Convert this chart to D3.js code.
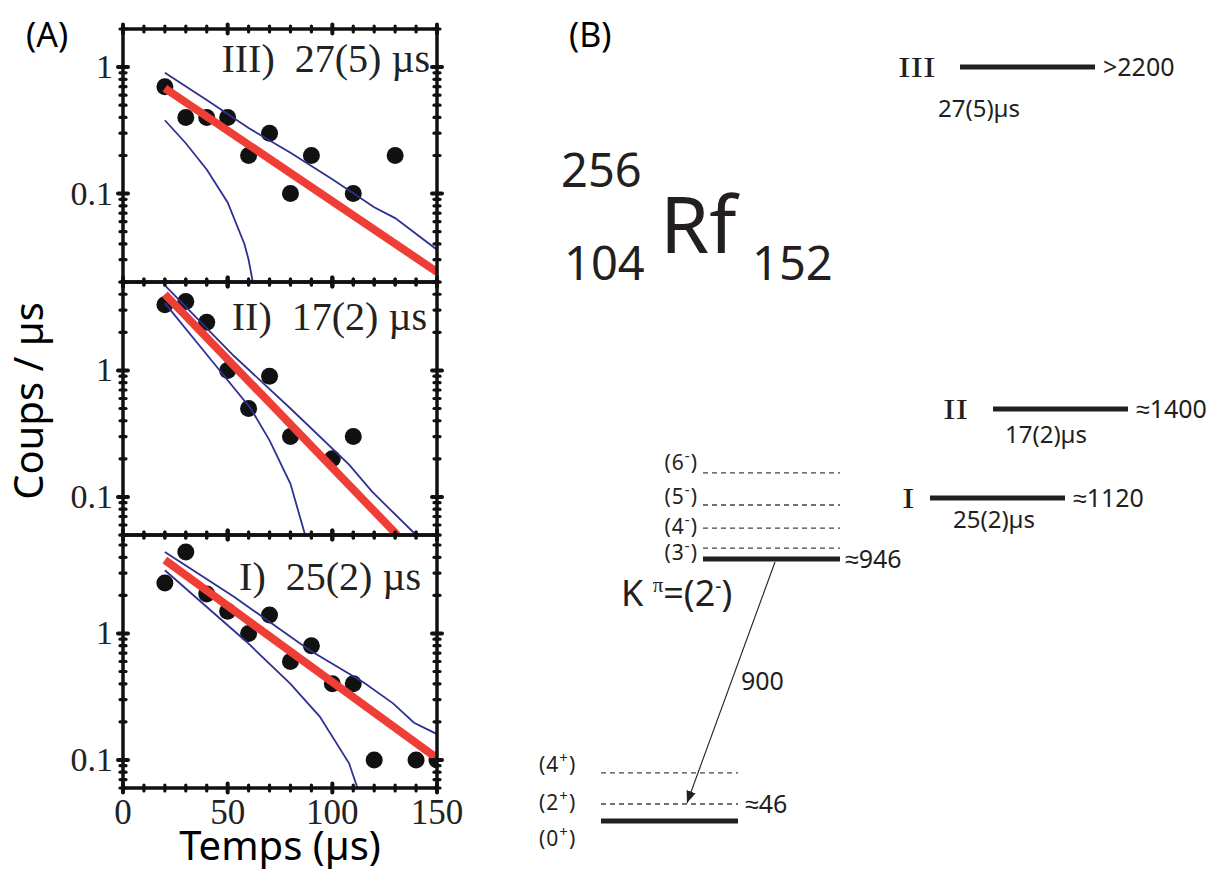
<!DOCTYPE html>
<html><head><meta charset="utf-8">
<script src="https://cdn.jsdelivr.net/npm/d3@7"></script>
<style>body{margin:0;background:#fff}svg{display:block}</style>
</head><body>
<svg id="c" width="1216" height="869"></svg>
<script>
// ---------------- DATA ----------------
// Panel A: decay curves (time in µs, counts / µs)
const timesIII  = [20,30,40,50,60,70,80,90,110,130];
const countsIII = [0.7,0.4,0.4,0.4,0.2,0.3,0.1,0.2,0.1,0.2];
const fitIII    = [[20,0.68],[150,0.024]];
const upperIII  = [[20,0.9],[40,0.55],[60,0.33],[80,0.21],[100,0.13],[120,0.078],[130,0.064],[150,0.036]];
const lowerIII  = [[20,0.38],[30,0.25],[40,0.155],[50,0.085],[58,0.04],[60,0.03],[62,0.02]];

const timesII   = [20,30,40,50,60,70,80,100,110];
const countsII  = [3.3,3.5,2.4,1.0,0.5,0.9,0.3,0.2,0.3];
const fitII     = [[20,4.0],[131,0.05]];
const upperII   = [[20,4.7],[53,1.3],[80,0.5],[108,0.18],[119,0.11],[140,0.05]];
const lowerII   = [[20,3.4],[43,1.16],[61,0.5],[70,0.28],[80,0.127],[87,0.05]];

const timesI    = [20,30,40,50,60,70,80,90,100,110,120,140,150];
const countsI   = [2.5,4.4,2.05,1.5,1.0,1.4,0.6,0.8,0.4,0.4,0.1,0.1,0.1];
const fitI      = [[20,3.8],[150,0.103]];
const upperI    = [[20,4.4],[53,1.95],[89,0.74],[115,0.41],[129,0.28],[139,0.197],[150,0.16]];
const lowerI    = [[20,3.16],[59,0.86],[80,0.4],[94,0.22],[108,0.094],[112,0.06]];

const yDomainIII = [0.02, 2];
const yDomainII  = [0.05, 5];
const yDomainI   = [0.06, 6];
const xDomain    = [0, 150];
const xTickLabels = [0, 50, 100, 150];
const yTickLabels = [1, 0.1];
const panelTitles = ["III)  27(5) µs", "II)  17(2) µs", "I)  25(2) µs"];

// Panel B: level scheme (energies in keV)
const groundLabels   = ["(0+)", "(2+)", "(4+)"];
const groundEnergies = [0, 46, 160];
const bandLabels     = ["(3-)", "(4-)", "(5-)", "(6-)"];
const bandEnergies   = [977, 1034, 1100, 1199];
const bandHead       = 946;
const isomerNames    = ["I", "II", "III"];
const isomerEnergies = [1120, 1400, 2200];
const isomerELabels  = ["≈1120", "≈1400", ">2200"];
const isomerHalfLives= ["25(2)µs", "17(2)µs", "27(5)µs"];
const transitionLabel= "900";

// ---------------- DRAW ----------------
const svg = d3.select("#c");
const SANS = "'Noto Sans', sans-serif";
const SERIF = "'Liberation Serif', 'Times New Roman', serif";
const RED = "#ee3e36", BLUE = "#2e3192", INK = "#231f20";

const x = d3.scaleLinear().domain(xDomain).range([123, 437]);

const panels = [
  {times: timesIII, counts: countsIII, fit: fitIII, up: upperIII, lo: lowerIII, dom: yDomainIII, top: 29,  bot: 282, title: panelTitles[0], tx: 430, ty: 72},
  {times: timesII,  counts: countsII,  fit: fitII,  up: upperII,  lo: lowerII,  dom: yDomainII,  top: 282, bot: 535, title: panelTitles[1], tx: 427, ty: 330},
  {times: timesI,   counts: countsI,   fit: fitI,   up: upperI,   lo: lowerI,   dom: yDomainI,   top: 535, bot: 788, title: panelTitles[2], tx: 421, ty: 590}
];

const defs = svg.append("defs");

panels.forEach((p, i) => {
  const y = d3.scaleLog().domain(p.dom).range([p.bot, p.top]);
  const g = svg.append("g");
  const cid = "clip" + i;
  defs.append("clipPath").attr("id", cid).append("rect")
    .attr("x", x.range()[0]).attr("y", p.top).attr("width", x.range()[1] - x.range()[0]).attr("height", p.bot - p.top);
  const inner = g.append("g").attr("clip-path", `url(#${cid})`);

  inner.selectAll("circle").data(p.times.map((t, k) => [t, p.counts[k]])).join("circle")
    .attr("cx", d => x(d[0])).attr("cy", d => y(d[1])).attr("r", 8.5).attr("fill", "#111");

  const line = d3.line().x(d => x(d[0])).y(d => y(d[1]));
  [p.up, p.lo].forEach(arr => {
    inner.append("path").attr("d", line(arr)).attr("fill", "none").attr("stroke", BLUE).attr("stroke-width", 1.8);
  });
  inner.append("path").attr("d", line(p.fit)).attr("fill", "none").attr("stroke", RED).attr("stroke-width", 8);

  g.append("rect").attr("x", x.range()[0]).attr("y", p.top)
    .attr("width", x.range()[1] - x.range()[0]).attr("height", p.bot - p.top)
    .attr("fill", "none").attr("stroke", "#111").attr("stroke-width", 3.5);

  const xt = d3.range(xDomain[0], xDomain[1] + 1, 10);
  [p.top, p.bot].forEach(yy => {
    g.selectAll(null).data(xt).join("line")
      .attr("x1", d => x(d)).attr("x2", d => x(d))
      .attr("y1", d => yy - (d % 50 === 0 ? 4.5 : 3)).attr("y2", d => yy + (d % 50 === 0 ? 4.5 : 3))
      .attr("stroke", "#111").attr("stroke-width", d => d % 50 === 0 ? 4 : 3.2).attr("stroke-linecap", "round");
  });
  const yt = [];
  const e0 = Math.floor(Math.log10(p.dom[0])), e1 = Math.ceil(Math.log10(p.dom[1]));
  for (let e = e0; e <= e1; e++) for (let k = 1; k <= 9; k++) {
    const v = +(k * Math.pow(10, e)).toPrecision(6);
    if (v >= p.dom[0] * 0.999 && v <= p.dom[1] * 1.001) yt.push(v);
  }
  const isMajor = v => Math.abs(Math.log10(v) - Math.round(Math.log10(v))) < 1e-6;
  x.range().forEach(xx => {
    g.selectAll(null).data(yt).join("line")
      .attr("y1", d => y(d)).attr("y2", d => y(d))
      .attr("x1", d => xx - (isMajor(d) ? 5 : 3)).attr("x2", d => xx + (isMajor(d) ? 5 : 3))
      .attr("stroke", "#111").attr("stroke-width", d => isMajor(d) ? 4 : 3.2).attr("stroke-linecap", "round");
  });
  g.selectAll(null).data(yTickLabels.filter(v => v >= p.dom[0] && v <= p.dom[1])).join("text")
    .attr("x", 113).attr("y", d => y(d) + 11).attr("text-anchor", "end")
    .attr("font-family", SERIF).attr("font-size", 34).attr("fill", "#222").text(d => d);
  g.append("text").attr("x", p.tx).attr("y", p.ty).attr("text-anchor", "end")
    .attr("font-family", SERIF).attr("font-size", 40).attr("fill", "#222").attr("xml:space", "preserve")
    .text(p.title);
});

svg.selectAll(null).data(xTickLabels).join("text")
  .attr("x", d => x(d)).attr("y", 824).attr("text-anchor", "middle")
  .attr("font-family", SERIF).attr("font-size", 35).attr("fill", "#222").text(d => d);

svg.append("text").attr("x", 280).attr("y", 860).attr("text-anchor", "middle")
  .attr("font-family", SANS).attr("font-size", 40).attr("fill", "#000").text("Temps (µs)");
svg.append("text").attr("transform", "translate(43,401) rotate(-90)").attr("text-anchor", "middle")
  .attr("font-family", SANS).attr("font-size", 40).attr("fill", "#000").text("Coups / µs");

svg.append("text").attr("x", 26).attr("y", 47).attr("font-family", SANS).attr("font-size", 34).attr("fill", "#000").text("(A)");
svg.append("text").attr("x", 569).attr("y", 47).attr("font-family", SANS).attr("font-size", 34).attr("fill", "#000").text("(B)");

// ---------------- Panel B ----------------
const E = d3.scaleLinear().domain([0, 46, 946, 1120, 1400, 2200]).range([821, 804, 559, 498, 409, 67]);
const B = svg.append("g").attr("font-family", SANS).attr("fill", INK);

function spinLabel(sel, lab) {
  const core = lab.slice(0, lab.length - 2), sign = lab[lab.length - 2];
  sel.append("tspan").text(core);
  sel.append("tspan").attr("dy", -9).attr("font-size", 15).text(sign === "-" ? "-" : "+");
  sel.append("tspan").attr("dy", 9).text(")");
}

B.append("text").attr("x", 561).attr("y", 187).attr("font-size", 47).text("256");
B.append("text").attr("x", 564).attr("y", 280).attr("font-size", 47).text("104");
B.append("text").attr("x", 660).attr("y", 253).attr("font-size", 79).text("Rf");
B.append("text").attr("x", 752).attr("y", 280).attr("font-size", 47).text("152");

const gx0 = 601, gx1 = 738;
const gOffsets = [17, -2, -9];
groundLabels.forEach((lab, i) => {
  const yy = E(groundEnergies[i]);
  if (i === 0) {
    B.append("line").attr("x1", gx0).attr("x2", gx1).attr("y1", yy).attr("y2", yy).attr("stroke", INK).attr("stroke-width", 5);
  } else {
    B.append("line").attr("x1", gx0).attr("x2", gx1).attr("y1", yy).attr("y2", yy).attr("stroke", "#444").attr("stroke-width", 1.3).attr("stroke-dasharray", "5,4");
  }
  const t = B.append("text").attr("x", 539).attr("y", yy + gOffsets[i] + 8).attr("font-size", 21).attr("letter-spacing", 1);
  spinLabel(t, lab);
});
B.append("text").attr("x", 745).attr("y", E(groundEnergies[1]) + 9).attr("font-size", 25).text("≈46");

const kx0 = 703, kx1 = 840;
const bOffsets = [5, -1, -8, -10];
bandLabels.forEach((lab, i) => {
  const yy = E(bandEnergies[i]);
  B.append("line").attr("x1", kx0).attr("x2", kx1).attr("y1", yy).attr("y2", yy).attr("stroke", "#444").attr("stroke-width", 1.3).attr("stroke-dasharray", "5,4");
  const t = B.append("text").attr("x", 698).attr("y", yy + bOffsets[i] + 7).attr("font-size", 21).attr("letter-spacing", 1).attr("text-anchor", "end");
  spinLabel(t, lab);
});
const yh = E(bandHead);
B.append("line").attr("x1", kx0).attr("x2", kx1).attr("y1", yh).attr("y2", yh).attr("stroke", INK).attr("stroke-width", 5);
B.append("text").attr("x", 845).attr("y", yh + 9).attr("font-size", 25).text("≈" + bandHead);
const kt = B.append("text").attr("x", 621).attr("y", 606).attr("font-size", 36);
kt.append("tspan").text("K ");
kt.append("tspan").attr("dy", -14).attr("font-size", 21).attr("font-family", SERIF).text("π");
kt.append("tspan").attr("dy", 14).text("=(2");
kt.append("tspan").attr("dy", -13).attr("font-size", 19).text("-");
kt.append("tspan").attr("dy", 13).text(")");

defs.append("marker").attr("id", "arr").attr("viewBox", "0 0 10 10").attr("refX", 10).attr("refY", 5)
  .attr("markerWidth", 12).attr("markerHeight", 12).attr("markerUnits", "userSpaceOnUse").attr("orient", "auto")
  .append("path").attr("d", "M0,1 L10,5 L0,9 Z").attr("fill", INK);
B.append("line").attr("x1", 775).attr("y1", yh + 3).attr("x2", 687).attr("y2", E(46) - 1)
  .attr("stroke", INK).attr("stroke-width", 1.1).attr("marker-end", "url(#arr)");
B.append("text").attr("x", 741).attr("y", 690).attr("font-size", 25).text(transitionLabel);

const isoX = [930, 993, 960];
const isoNameX = [902, 943, 898];
const hlX = [953, 1005, 938];
const hlDy = [30, 34, 50];
isomerNames.forEach((nm, i) => {
  const yy = E(isomerEnergies[i]);
  B.append("line").attr("x1", isoX[i]).attr("x2", isoX[i] + 135).attr("y1", yy).attr("y2", yy).attr("stroke", INK).attr("stroke-width", 5);
  B.append("text").attr("transform", `translate(${isoNameX[i]},${yy + 10}) scale(1.3,1)`)
    .attr("font-family", SERIF).attr("font-size", 29).text(nm);
  B.append("text").attr("x", isoX[i] + 143).attr("y", yy + 9).attr("font-size", 25).text(isomerELabels[i]);
  B.append("text").attr("x", hlX[i]).attr("y", yy + hlDy[i]).attr("font-size", 24).text(isomerHalfLives[i]);
});
</script>
</body></html>
